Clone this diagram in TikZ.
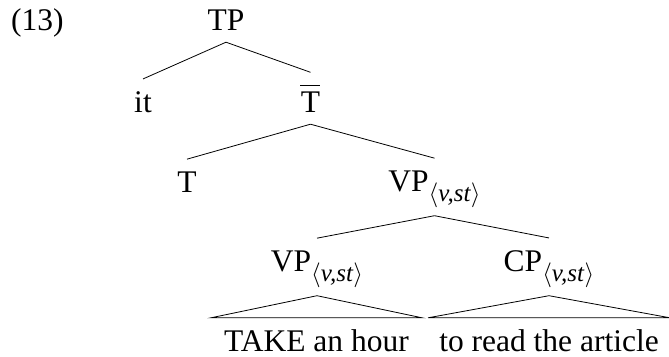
\documentclass[tikz,border=0pt]{standalone}
\usepackage{fontspec}
\setmainfont{Liberation Serif}
\newcommand{\vst}{\raisebox{-10pt}{\fontsize{25}{30}\selectfont$\langle$\textit{v,st}$\rangle$}}
\newcommand{\tbar}{\makebox[0pt][l]{\hspace{-0.5pt}\rule[26.5pt]{20pt}{1pt}}T}
\tikzset{lbl/.style={anchor=base, inner xsep=0pt, inner ysep=12pt, font=\fontsize{31.5}{38}\selectfont},
	sub/.style={text depth=12.5pt},
	leaf/.style={lbl, inner ysep=0pt, text height=33pt, text depth=0pt}}
\begin{document}
\begin{tikzpicture}[x=1pt, y=-1pt]
	\useasboundingbox (0,0) rectangle (669,356);
	\node[lbl, anchor=base west] (ex)   at (11,30)    {(13)};
	\node[lbl]                   (TP)   at (226,30)   {TP};
	\node[lbl]                   (it)   at (143,112)  {it};
	\node[lbl]                   (Tbar) at (310.5,112) {\tbar};
	\node[lbl]                   (T)    at (187,192)  {T};
	\node[lbl, sub]              (VP)   at (434.5,191) {VP\vst};
	\node[lbl, sub]              (VPa)  at (317,271)  {VP\vst};
	\node[lbl, sub]              (CP)   at (549,271)  {CP\vst};
	\node[leaf, inner xsep=13pt] (take) at (316.5,351) {TAKE an hour};
	\node[leaf, inner xsep=11pt] (read) at (549,351)  {to read the article};

	\path [-, line width=0.8pt] (TP.south) edge (it.north);
	\path [-, line width=0.8pt] (TP.south) edge (Tbar.north);
	\path [-, line width=0.8pt] (Tbar.south) edge (T.north);
	\path [-, line width=0.8pt] (Tbar.south) edge (VP.north);
	\path [-, line width=0.8pt] (VP.south) edge (VPa.north);
	\path [-, line width=0.8pt] (VP.south) edge (CP.north);
	\draw [line width=0.8pt] (VPa.south) -- (take.north east) -- (take.north west) -- cycle;
	\draw [line width=0.8pt] (CP.south) -- (read.north east) -- (read.north west) -- cycle;
\end{tikzpicture}
\end{document}
